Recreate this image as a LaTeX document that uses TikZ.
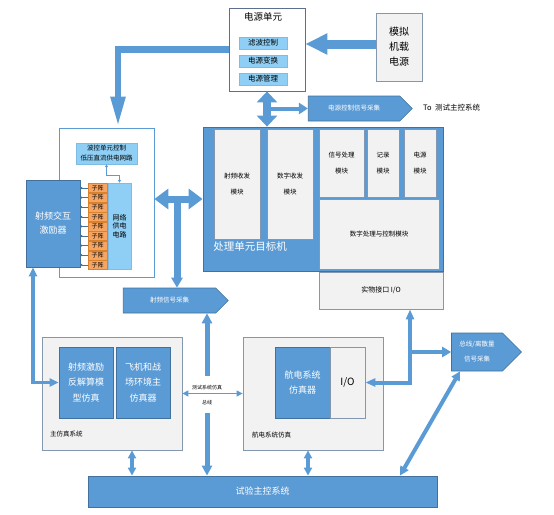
\documentclass[tikz,border=0pt]{standalone}
\usepackage{fontspec}
\setmainfont{Noto Sans CJK SC}
\usetikzlibrary{arrows.meta,shapes.symbols}

\definecolor{blueF}{HTML}{5B9BD5}
\definecolor{blueD}{HTML}{41719C}
\definecolor{grayF}{HTML}{F2F2F2}
\definecolor{grayD}{HTML}{8497B0}
\definecolor{skyF}{HTML}{8FCFF5}
\definecolor{orangeF}{HTML}{F5A461}
\definecolor{orangeD}{HTML}{D9822B}
\definecolor{frameD}{HTML}{5D6E8F}

\newcommand{\txtsize}[2]{\fontsize{#1}{#2}\selectfont}

\begin{document}
\begin{tikzpicture}[x=1pt,y=-1pt,
		every node/.style={inner sep=0pt, align=center, text=black},
		sz/.style 2 args={minimum width=#1, minimum height=#2},
		bluebox/.style={draw=blueD, fill=blueF, line width=0.8pt, text=white, font=\txtsize{9}{15.5}},
		graybox/.style={draw=grayD, fill=grayF, line width=0.8pt},
		modbox/.style={draw=grayD, fill=grayF, line width=0.6pt, font=\txtsize{6.5}{16}},
		skybox/.style={fill=skyF, draw=skyF!80!blueD, line width=0.4pt},
		subarr/.style={fill=orangeF, draw=orangeD, line width=0.4pt, minimum width=19, minimum height=9, font=\txtsize{6}{6}},
		sigbox/.style={signal, signal to=east, draw=blueD, fill=blueF, line width=0.6pt, text=white, font=\txtsize{6.5}{15}},
		oneway/.style n args={3}{draw=blueF, line width=#1pt, >={Triangle[width=#2pt,length=#3pt]}, ->},
		twoway/.style n args={3}{draw=blueF, line width=#1pt, >={Triangle[width=#2pt,length=#3pt]}, <->},
		thinlink/.style={draw=blueF, line width=0.8pt, >={Triangle[width=3pt,length=3pt]}, <->},
		salink/.style={draw=blueD, line width=0.6pt, {Circle[open,length=2pt,width=2pt]}-}
	]
	\useasboundingbox (0,0) rectangle (554,514);

	% power unit
	\node[draw=frameD, fill=white, line width=0.8pt, sz={76}{83}] (power) at (267,49.5) {};
	\node[font=\txtsize{9.5}{10}] (powertitle) at (263,17) {电源单元};
	\node[skybox, sz={48}{12}, font=\txtsize{7.5}{8}] (filt) at (263,43) {滤波控制};
	\node[skybox, sz={48}{12}, font=\txtsize{7.5}{8}] (conv) at (263,61) {电源变换};
	\node[skybox, sz={48}{12}, font=\txtsize{7.5}{8}] (mon) at (263,79) {电源管理};
	\node[graybox, sz={46}{68}, font=\txtsize{10}{15}] (simpwr) at (399,47) {模拟\\机载\\电源};
	\node[sigbox, sz={104}{25}] (pwrsig) at (354,108.5) {电源控制信号采集};
	\node[anchor=west, font=\txtsize{7.5}{8}] (tolbl) at (423,108) {To\ \ 测试主控系统};

	% antenna board
	\node[draw=blueF, fill=white, line width=0.8pt, sz={95}{149}] (board) at (106.5,202.5) {};
	\node[skybox, sz={61}{21}, font=\txtsize{6.5}{10}] (bkctrl) at (106.5,153.5) {波控单元控制\\低压直流供电网路};
	\node[bluebox, sz={54}{87}, font=\txtsize{9}{14}] (exciter) at (53,223.5) {射频交互\\激励器};
	\node[skybox, sz={23}{86}, font=\txtsize{7}{8.5}] (netpwr) at (119.5,226) {网络\\供电\\电路};
	\foreach \i in {1,...,9}
		\node[subarr] (sa\i) at (97.5,{188+9.6*(\i-1)}) {子阵};

	% processing unit
	\node[bluebox, sz={240}{144}] (proc) at (323,199) {};
	\node[modbox, sz={46}{110}] (rfmod) at (237,184) {射频收发\\模块};
	\node[modbox, sz={46}{110}] (digmod) at (290,184) {数字收发\\模块};
	\node[modbox, sz={45}{68}] (sigmod) at (341.5,163) {信号处理\\模块};
	\node[modbox, sz={32}{68}] (recmod) at (383,163) {记录\\模块};
	\node[modbox, sz={32}{68}] (pwrmod) at (420,163) {电源\\模块};
	\node[modbox, sz={120}{70}] (dspmod) at (379,234) {数字处理与控制模块};
	\node[text=white, font=\txtsize{10.5}{11}] (proctitle) at (250,247) {处理单元目标机};
	\node[graybox, sz={124}{37}, font=\txtsize{7}{8}] (iomod) at (381,290.5) {实物接口 I/O};
	\node[sigbox, sz={105}{25}] (rfsig) at (169.5,300.5) {射频信号采集};

	% simulation systems
	\node[graybox, sz={140}{113}] (mainsim) at (112,393.5) {};
	\node[anchor=west, font=\txtsize{6.5}{7}] (mainlbl) at (50,434) {主仿真系统};
	\node[bluebox, sz={54}{71}] (rfinv) at (86,382.5) {射频激励\\反解算模\\型仿真};
	\node[bluebox, sz={54}{71}] (battle) at (143,382.5) {飞机和战\\场环境主\\仿真器};
	\node[graybox, sz={140}{113}] (avsim) at (313,393.5) {};
	\node[anchor=west, font=\txtsize{6.5}{7}] (avlbl) at (252,435) {航电系统仿真};
	\node[bluebox, sz={55}{71}] (avsimr) at (302.5,382.5) {航电系统\\仿真器};
	\node[graybox, sz={35}{71}, font=\txtsize{10}{10}] (avio) at (347.5,382.5) {I/O};
	\node[sigbox, sz={70}{38}] (bussig) at (477,352) {总线/离散量\\信号采集};
	\node[font=\txtsize{5}{15}] (bus) at (207,395.5) {测试系统仿真\\总线};
	\node[bluebox, sz={349}{31}] (testctl) at (262.5,491.5) {试验主控系统};

	% connectors
	\draw[oneway={9}{20}{22}] (simpwr.west |- 0,44) -- (power.east |- 0,44);
	\draw[oneway={6.5}{13.5}{31}] (power.west) -| ([xshift=11.5pt]board.north);
	\draw[twoway={8}{20}{11}] (power.south) -- (power.south |- proc.north);
	\draw[oneway={4}{11}{9}] (power.south |- pwrsig.west) -- (pwrsig.west);
	\draw[twoway={7}{20}{14}] (board.east |- proc.west) -- (proc.west);
	\draw[oneway={7}{11}{10}] ([xshift=7.5pt]rfsig.north |- proc.west) -- ([xshift=7.5pt]rfsig.north);
	\draw[thinlink] (bkctrl.south) -- ++(0,11) -| (netpwr.north);
	\foreach \i in {1,...,9}
		\draw[salink] (exciter.east |- sa\i.west) -- (sa\i.west);
	\draw[twoway={3.5}{8}{9}] ([xshift=-20pt]exciter.south) |- (rfinv.west);
	\draw[oneway={5}{10}{10}] ([yshift=20pt]bus.center) -- (bus |- rfsig.south);
	\draw[oneway={5}{10}{10}] ([yshift=-17pt]bus.center) -- (bus |- testctl.north);
	\draw[thinlink, >={Triangle[width=6pt,length=6pt]}, line width=1.2pt] (mainsim.east) -- (avsim.west);
	\draw[twoway={4}{8}{8}] ([xshift=20pt]mainsim.south) -- ([xshift=20pt]mainsim.south |- testctl.north);
	\draw[twoway={4}{8}{8}] ([xshift=-5pt]avsim.south) -- ([xshift=-5pt]avsim.south |- testctl.north);
	\draw[twoway={4}{8}{10}] (avio.east) -| ([xshift=29pt]iomod.south);
	\coordinate (iojunc) at ([xshift=29pt]iomod.south |- bussig.west);
	\draw[oneway={3.5}{10}{9}] (iojunc) -- (bussig.west);
	\draw[twoway={4}{9}{9}] ([xshift=-17pt]bussig.south) -- ([xshift=137.5pt]testctl.north);
\end{tikzpicture}
\end{document}
